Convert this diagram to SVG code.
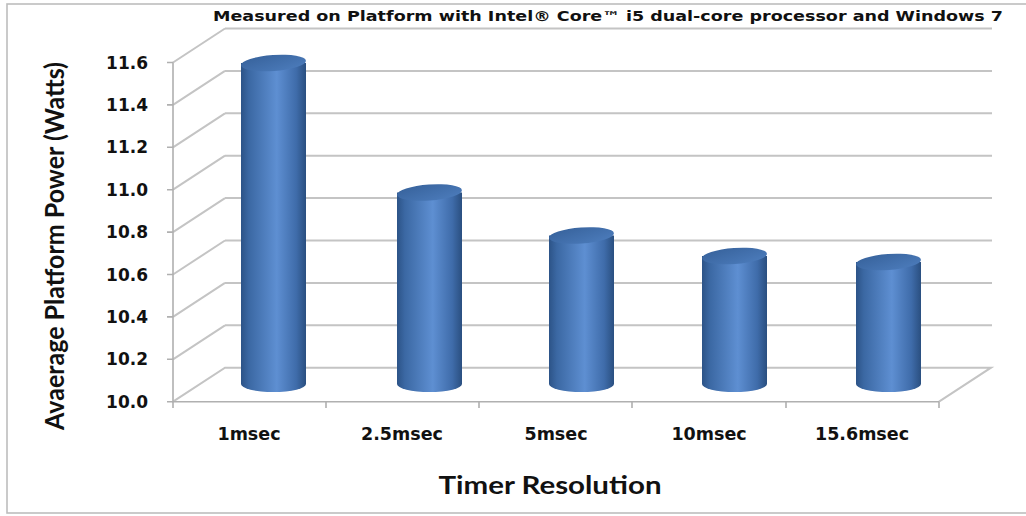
<svg xmlns="http://www.w3.org/2000/svg" width="1026" height="516" viewBox="0 0 1026 516">
<defs>
<linearGradient id="body" x1="0" y1="0" x2="1" y2="0">
<stop offset="0" stop-color="#2c5387"/>
<stop offset="0.12" stop-color="#3b68a3"/>
<stop offset="0.55" stop-color="#5e8fd2"/>
<stop offset="0.85" stop-color="#3f6caa"/>
<stop offset="1" stop-color="#2a4f80"/>
</linearGradient>
<linearGradient id="top" x1="0" y1="0" x2="1" y2="1">
<stop offset="0" stop-color="#36619a"/>
<stop offset="1" stop-color="#4d7dbd"/>
</linearGradient>
</defs>
<style>
.grid{stroke:#c4c4c4;stroke-width:2;fill:none}
.axis{stroke:#b0b0b0;stroke-width:1.6;fill:none}
.tick{font-family:"DejaVu Sans",Verdana,sans-serif;font-weight:bold;font-size:17px;fill:#111;text-anchor:end}
.cat{font-family:"DejaVu Sans",Verdana,sans-serif;font-weight:bold;font-size:17.5px;fill:#111;text-anchor:middle}
.ttl{font-family:Lato,"Open Sans",sans-serif;font-weight:bold;fill:#111;text-anchor:middle}
.bar{fill:url(#body)}
.cap{fill:url(#top)}
</style>
<rect x="7" y="4" width="1030" height="509" fill="#fff" stroke="#bdbdbd" stroke-width="1.6"/>
<text x="608" y="21" font-family="'DejaVu Sans',Verdana,sans-serif" font-weight="bold" font-size="13.5" fill="#111" text-anchor="middle" textLength="790" lengthAdjust="spacingAndGlyphs">Measured on Platform with Intel® Core™ i5 dual-core processor and Windows 7</text>
<g id="grid">
<path class="grid" d="M225 28.5H992M225 70.9H992M225 113.3H992M225 155.7H992M225 198.1H992M225 240.5H992M225 282.9H992M225 325.3H992"/>
<path class="grid" d="M173 62.5L225 28.5M173 104.9L225 70.9M173 147.3L225 113.3M173 189.7L225 155.7M173 232.1L225 198.1M173 274.5L225 240.5M173 316.9L225 282.9M173 359.3L225 325.3"/>
<path class="grid" d="M173 401.7L225 367.7H991L939 401.7"/>
</g>
<g id="axes">
<path class="axis" d="M173 62.5V401.7H939"/>
<path class="axis" d="M167 62.5H173M167 104.9H173M167 147.3H173M167 189.7H173M167 232.1H173M167 274.5H173M167 316.9H173M167 359.3H173M167 401.7H173"/>
<path class="axis" d="M173 401.7V408M326 401.7V408M479 401.7V408M632 401.7V408M786 401.7V408M939 401.7V408"/>
</g>
<g id="ticklabels">
<text class="tick" x="148" y="68.5">11.6</text>
<text class="tick" x="148" y="110.9">11.4</text>
<text class="tick" x="148" y="153.3">11.2</text>
<text class="tick" x="148" y="195.7">11.0</text>
<text class="tick" x="148" y="238.1">10.8</text>
<text class="tick" x="148" y="280.5">10.6</text>
<text class="tick" x="148" y="322.9">10.4</text>
<text class="tick" x="148" y="365.3">10.2</text>
<text class="tick" x="148" y="407.7">10.0</text>
</g>
<g id="bar-1msec">
<path class="bar" d="M241 63V384A32.5 8 0 0 0 306 384V63Z"/>
<ellipse class="cap" cx="273.5" cy="63" rx="32.5" ry="8" transform="rotate(-4 273.5 63)"/>
</g>
<g id="bar-2.5msec">
<path class="bar" d="M397 192.5V384A32.5 8 0 0 0 462 384V192.5Z"/>
<ellipse class="cap" cx="429.5" cy="192.5" rx="32.5" ry="8" transform="rotate(-4 429.5 192.5)"/>
</g>
<g id="bar-5msec">
<path class="bar" d="M549 235.5V384A32.5 8 0 0 0 614 384V235.5Z"/>
<ellipse class="cap" cx="581.5" cy="235.5" rx="32.5" ry="8" transform="rotate(-4 581.5 235.5)"/>
</g>
<g id="bar-10msec">
<path class="bar" d="M702 256V384A32.5 8 0 0 0 767 384V256Z"/>
<ellipse class="cap" cx="734.5" cy="256" rx="32.5" ry="8" transform="rotate(-4 734.5 256)"/>
</g>
<g id="bar-15.6msec">
<path class="bar" d="M856 262V384A32.5 8 0 0 0 921 384V262Z"/>
<ellipse class="cap" cx="888.5" cy="262" rx="32.5" ry="8" transform="rotate(-4 888.5 262)"/>
</g>
<g id="catlabels">
<text class="cat" x="249" y="440">1msec</text>
<text class="cat" x="402" y="440">2.5msec</text>
<text class="cat" x="556" y="440">5msec</text>
<text class="cat" x="709" y="440">10msec</text>
<text class="cat" x="862" y="440">15.6msec</text>
</g>
<text class="ttl" x="550" y="494" font-size="25" textLength="223" lengthAdjust="spacingAndGlyphs">Timer Resolution</text>
<text class="ttl" transform="translate(64 246) rotate(-90)" x="0" y="0" font-size="27" textLength="368" lengthAdjust="spacingAndGlyphs">Avaerage Platform Power (Watts)</text>
</svg>
